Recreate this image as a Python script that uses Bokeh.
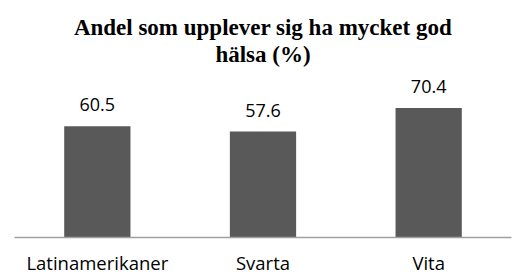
from bokeh.plotting import figure
from bokeh.models import ColumnDataSource, Range1d, LabelSet, Label
from bokeh.core.properties import value
from bokeh.embed import file_html
from bokeh.resources import INLINE

categories = ["Latinamerikaner", "Svarta", "Vita"]
values = [60.5, 57.6, 70.4]
value_labels = ["60.5", "57.6", "70.4"]
title_lines = ["Andel som upplever sig ha mycket god", "hälsa (%)"]

src = ColumnDataSource(dict(cat=categories, val=values, lab=value_labels))

p = figure(x_range=categories, y_range=Range1d(0, 128.8), width=518, height=279,
           output_backend="svg", toolbar_location=None,
           min_border_left=14, min_border_right=7, min_border_top=0, min_border_bottom=42)
p.outline_line_color = None
p.xgrid.visible = False
p.ygrid.visible = False
p.yaxis.visible = False
p.background_fill_color = "white"
p.border_fill_color = "white"

p.vbar(x="cat", top="val", width=0.4, source=src, fill_color="#595959", line_color=None)

p.add_layout(LabelSet(x="cat", y="val", text="lab", source=src, y_offset=15,
                      text_align="center", text_baseline="alphabetic",
                      text_font=value("Open Sans"), text_font_size=value("18px"),
                      text_color="#000000"))

for line, yv in zip(title_lines, [114.2, 99.5]):
    p.add_layout(Label(x=1.5, y=yv, text=line, text_align="center", text_baseline="alphabetic",
                       text_font="Liberation Serif", text_font_style="bold",
                       text_font_size="23px", text_color="#000000"))

ax = p.xaxis[0]
ax.axis_line_color = "#a0a0a0"
ax.axis_line_width = 1.5
ax.major_tick_line_color = None
ax.minor_tick_line_color = None
ax.major_tick_out = 0
ax.major_tick_in = 0
ax.major_label_standoff = 12
ax.major_label_text_font = "Open Sans"
ax.major_label_text_font_size = "18.5px"
ax.major_label_text_color = "#000000"

open("out.html", "w").write(file_html(p, INLINE))
